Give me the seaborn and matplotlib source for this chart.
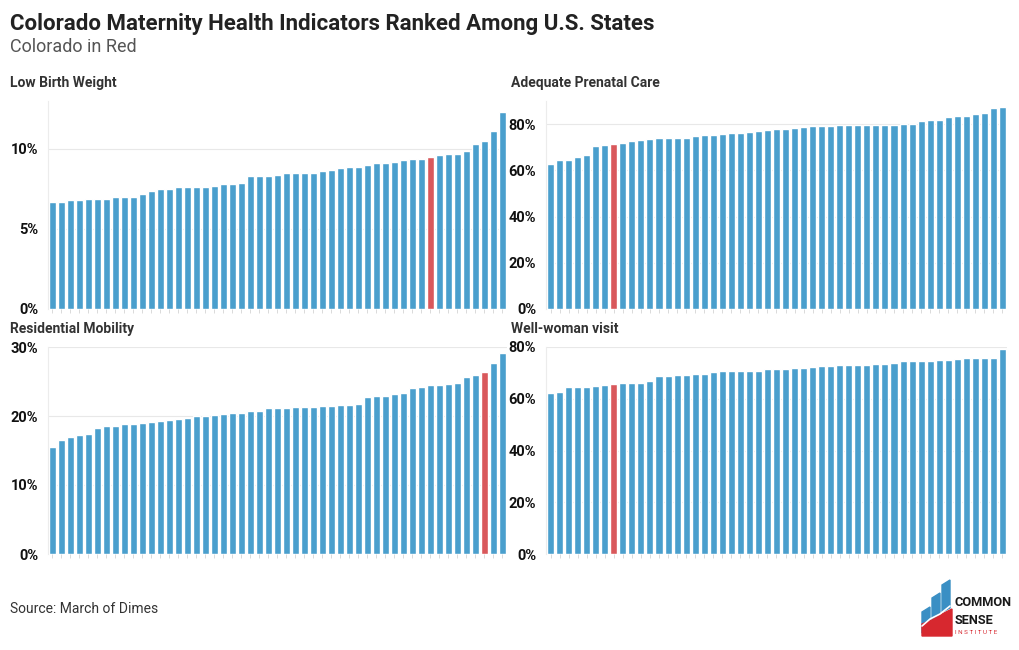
import matplotlib
matplotlib.use("Agg")
import matplotlib.pyplot as plt
import numpy as np
import pandas as pd
import seaborn as sns
from matplotlib.patches import Polygon

# ---------------- data (sorted state values, Colorado index) ----------------
low_birth_weight = [6.7, 6.7, 6.8, 6.8, 6.9, 6.9, 6.9, 7.0, 7.0, 7.0, 7.2, 7.4, 7.5, 7.5, 7.6,
                    7.6, 7.6, 7.6, 7.7, 7.8, 7.8, 7.9, 8.3, 8.3, 8.3, 8.4, 8.5, 8.5, 8.5, 8.5,
                    8.6, 8.7, 8.8, 8.9, 8.9, 9.0, 9.1, 9.1, 9.2, 9.3, 9.4, 9.4, 9.5, 9.6, 9.7,
                    9.7, 9.9, 10.3, 10.5, 11.1, 12.3]
low_birth_weight_co = 42

prenatal_care = [62.7, 64.4, 64.5, 65.7, 66.8, 70.4, 71.0, 71.2, 71.7, 72.5, 73.2, 73.4, 73.9,
                 73.9, 73.9, 73.9, 74.9, 75.2, 75.3, 75.8, 76.2, 76.2, 76.5, 77.0, 77.5, 77.7,
                 77.7, 78.4, 78.7, 79.0, 79.3, 79.3, 79.4, 79.6, 79.6, 79.6, 79.7, 79.7, 79.7,
                 80.1, 80.1, 81.3, 81.9, 81.9, 83.2, 83.7, 83.7, 84.3, 84.8, 86.8, 87.6]
prenatal_care_co = 7

residential_mobility = [15.5, 16.5, 17.0, 17.2, 17.4, 18.3, 18.5, 18.5, 18.8, 18.9, 19.0, 19.2,
                        19.3, 19.4, 19.5, 19.7, 20.0, 20.0, 20.2, 20.3, 20.4, 20.4, 20.7, 20.7,
                        21.1, 21.1, 21.2, 21.3, 21.3, 21.3, 21.4, 21.5, 21.6, 21.6, 21.8, 22.7,
                        22.9, 22.9, 23.2, 23.4, 24.0, 24.2, 24.5, 24.5, 24.6, 24.8, 25.6, 25.9,
                        26.4, 27.7, 29.1]
residential_mobility_co = 48

well_woman = [62.4, 62.8, 64.5, 64.5, 64.5, 65.1, 65.5, 65.7, 66.0, 66.0, 66.1, 66.9, 68.8,
              68.9, 69.0, 69.0, 69.5, 69.5, 70.2, 70.6, 70.6, 70.8, 70.9, 70.9, 71.5, 71.5,
              71.6, 72.0, 72.0, 72.4, 72.5, 72.5, 72.9, 73.0, 73.0, 73.1, 73.5, 73.5, 73.8,
              74.4, 74.4, 74.4, 74.4, 74.8, 74.8, 75.5, 75.6, 75.6, 75.6, 75.7, 79.1]
well_woman_co = 7

panel_titles = ["Low Birth Weight", "Adequate Prenatal Care", "Residential Mobility", "Well-woman visit"]
panel_ticks = [[0, 5, 10], [0, 20, 40, 60, 80], [0, 10, 20, 30], [0, 20, 40, 60, 80]]
panel_ymax = [13, 90, 30, 80]

# ---------------- style ----------------
BLUE = "#4a9fcd"
RED = "#d9585b"
W, H = 1020, 650

sns.set_theme(style="white")
plt.rcParams['font.family'] = ['Roboto', 'DejaVu Sans']

fig = plt.figure(figsize=(W / 100, H / 100), dpi=100)
fig.patch.set_facecolor("white")

# panel boxes in pixels: left, top, right, bottom
boxes = [(48, 101, 507, 309), (546, 101, 1007, 309),
         (48, 347, 507, 554), (546, 347, 1007, 554)]
title_pos = [(10, 83), (511, 83), (10, 329), (511, 329)]

series = [(low_birth_weight, low_birth_weight_co), (prenatal_care, prenatal_care_co),
          (residential_mobility, residential_mobility_co), (well_woman, well_woman_co)]

for i, ((vals, co), box) in enumerate(zip(series, boxes)):
    l, t, r, b = box
    ax = fig.add_axes([l / W, 1 - b / H, (r - l) / W, (b - t) / H])
    df = pd.DataFrame({
        "rank": [str(k + 1) for k in range(len(vals))],
        "value": vals,
        "group": ["Colorado" if k == co else "Other" for k in range(len(vals))],
    })
    sns.barplot(data=df, x="rank", y="value", hue="group",
                palette={"Colorado": RED, "Other": BLUE}, dodge=False,
                width=0.78, saturation=1, legend=False, ax=ax, zorder=2)
    ax.set_xlim(-0.5, len(vals) - 0.5)
    ax.set_ylim(0, panel_ymax[i])
    ax.set_yticks(panel_ticks[i])
    ax.set_yticklabels([f"{v}%" for v in panel_ticks[i]], fontsize=10.5,
                       fontweight="bold", color="#111111")
    ax.set_xlabel("")
    ax.set_ylabel("")
    ax.set_xticklabels([])
    ax.tick_params(axis="y", length=0, pad=7)
    ax.tick_params(axis="x", bottom=True, length=3, width=0.6, color="#d5d5d5", pad=0)
    ax.grid(axis="y", color="#e8e8e8", linewidth=0.8, zorder=0)
    ax.set_axisbelow(True)
    for s in ["top", "right", "bottom"]:
        ax.spines[s].set_visible(False)
    ax.spines["left"].set_color("#ececec")
    ax.spines["left"].set_linewidth(0.8)
    ax.set_facecolor("none")
    tx, ty = title_pos[i]
    fig.text(tx / W, 1 - ty / H, panel_titles[i], fontsize=10, fontweight="bold",
             color="#333333", va="center", ha="left")

# ---------------- titles ----------------
fig.text(10 / W, 1 - 24 / H, "Colorado Maternity Health Indicators Ranked Among U.S. States",
         fontsize=16, fontweight="bold", color="#222222", va="center", ha="left")
fig.text(10 / W, 1 - 47 / H, "Colorado in Red", fontsize=13, color="#555555",
         va="center", ha="left")
fig.text(10 / W, 1 - 609 / H, "Source: March of Dimes", fontsize=10, color="#333333",
         va="center", ha="left")

# ---------------- logo (decoration) ----------------
lax = fig.add_axes([918 / W, 1 - 640 / H, 100 / W, 62 / H])
lax.set_xlim(918, 1018)
lax.set_ylim(640, 578)
lax.axis("off")
blue_bars = [[(922, 633), (922, 612), (930, 607), (930, 630)],
             [(932, 627), (932, 598), (940, 593), (940, 623)],
             [(942, 612), (942, 585), (950, 580), (950, 608)]]
for p in blue_bars:
    lax.add_patch(Polygon(p, closed=True, color="#3a8fc4"))
red_shape = [(922, 636), (922, 624), (932, 620), (942, 614), (952, 609), (952, 636)]
lax.add_patch(Polygon(red_shape, closed=True, color="#d7282f"))
lax.plot([922, 930, 940, 950], [626, 619, 614, 606], color="white", lw=1.2)
lax.text(955, 602, "COMMON", fontsize=9.2, fontweight="bold", color="#1a1a1a",
         va="center", ha="left")
lax.text(955, 620, "SENSE", fontsize=9.2, fontweight="bold", color="#1a1a1a",
         va="center", ha="left")
lax.text(955, 633, "I N S T I T U T E", fontsize=4.5, color="#d7282f",
         va="center", ha="left")

fig.savefig("out.png", dpi=100, facecolor="white")
